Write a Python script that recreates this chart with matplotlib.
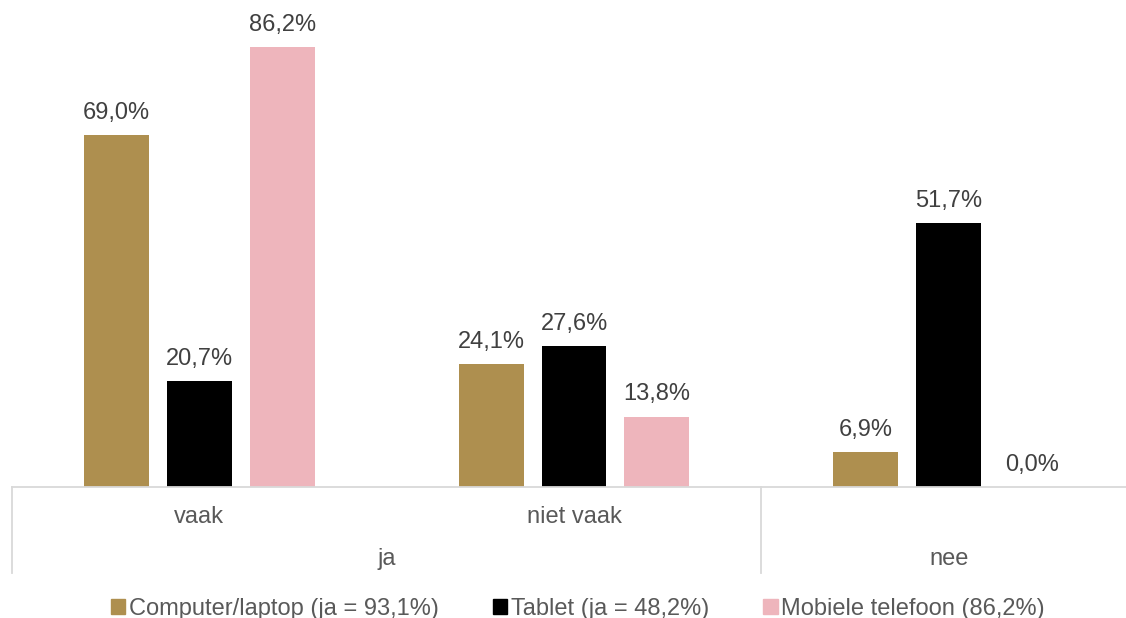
import numpy as np
import matplotlib.pyplot as plt
from matplotlib.patches import Patch

plt.rcParams['font.family'] = ['Liberation Sans', 'DejaVu Sans']

# data
categories = ["vaak", "niet vaak", ""]
groups = ["ja", "nee"]
series = ["Computer/laptop (ja = 93,1%)", "Tablet (ja = 48,2%)", "Mobiele telefoon (86,2%)"]
computer = [69.0, 24.1, 6.9]
tablet = [20.7, 27.6, 51.7]
mobiel = [86.2, 13.8, 0.0]
colors = ["#AE8F4F", "#000000", "#EEB5BC"]

fig = plt.figure(figsize=(11.26, 6.18), dpi=100)
# plot area runs past the right edge like in the original
ax = fig.add_axes([12/1126, 131/618, 1124/1126, 487/618])

x = np.arange(3)
offs = [-0.2213, 0, 0.2213]
w = 0.1733
for vals, off, c in zip([computer, tablet, mobiel], offs, colors):
    bars = ax.bar(x + off, vals, w, color=c)
    for b, v in zip(bars, vals):
        ax.annotate(f"{v:.1f}%".replace(".", ","), (b.get_x() + w/2, v),
                    xytext=(0, 8), textcoords="offset points",
                    ha="center", va="bottom", fontsize=17, color="#404040")

ax.set_xlim(-0.5, 2.5)
ax.set_ylim(0, 95.4)
ax.axis("off")

# category axis
gc = "#D9D9D9"
ax.plot([-0.5, 2.5], [0, 0], color=gc, lw=1.3, clip_on=False)
tr = ax.get_xaxis_transform()
for xv in [-0.5, 1.5, 2.5]:
    ax.plot([xv, xv], [0, -86/487], color=gc, lw=1.3, transform=tr, clip_on=False)
for i, c in enumerate(categories):
    ax.text(i, -30/487, c, transform=tr, ha="center", va="center", fontsize=17, color="#595959")
ax.text(0.5, -72/487, groups[0], transform=tr, ha="center", va="center", fontsize=17, color="#595959")
ax.text(2, -72/487, groups[1], transform=tr, ha="center", va="center", fontsize=17, color="#595959")

handles = [Patch(color=c) for c in colors]
fig.legend(handles, series, loc="center", bbox_to_anchor=(578/1126, 9/618), ncol=3,
           frameon=False, fontsize=17, labelcolor="#595959",
           handlelength=0.6, handleheight=0.6, handletextpad=0.15, columnspacing=2.3)

plt.savefig("out.png", dpi=100)
